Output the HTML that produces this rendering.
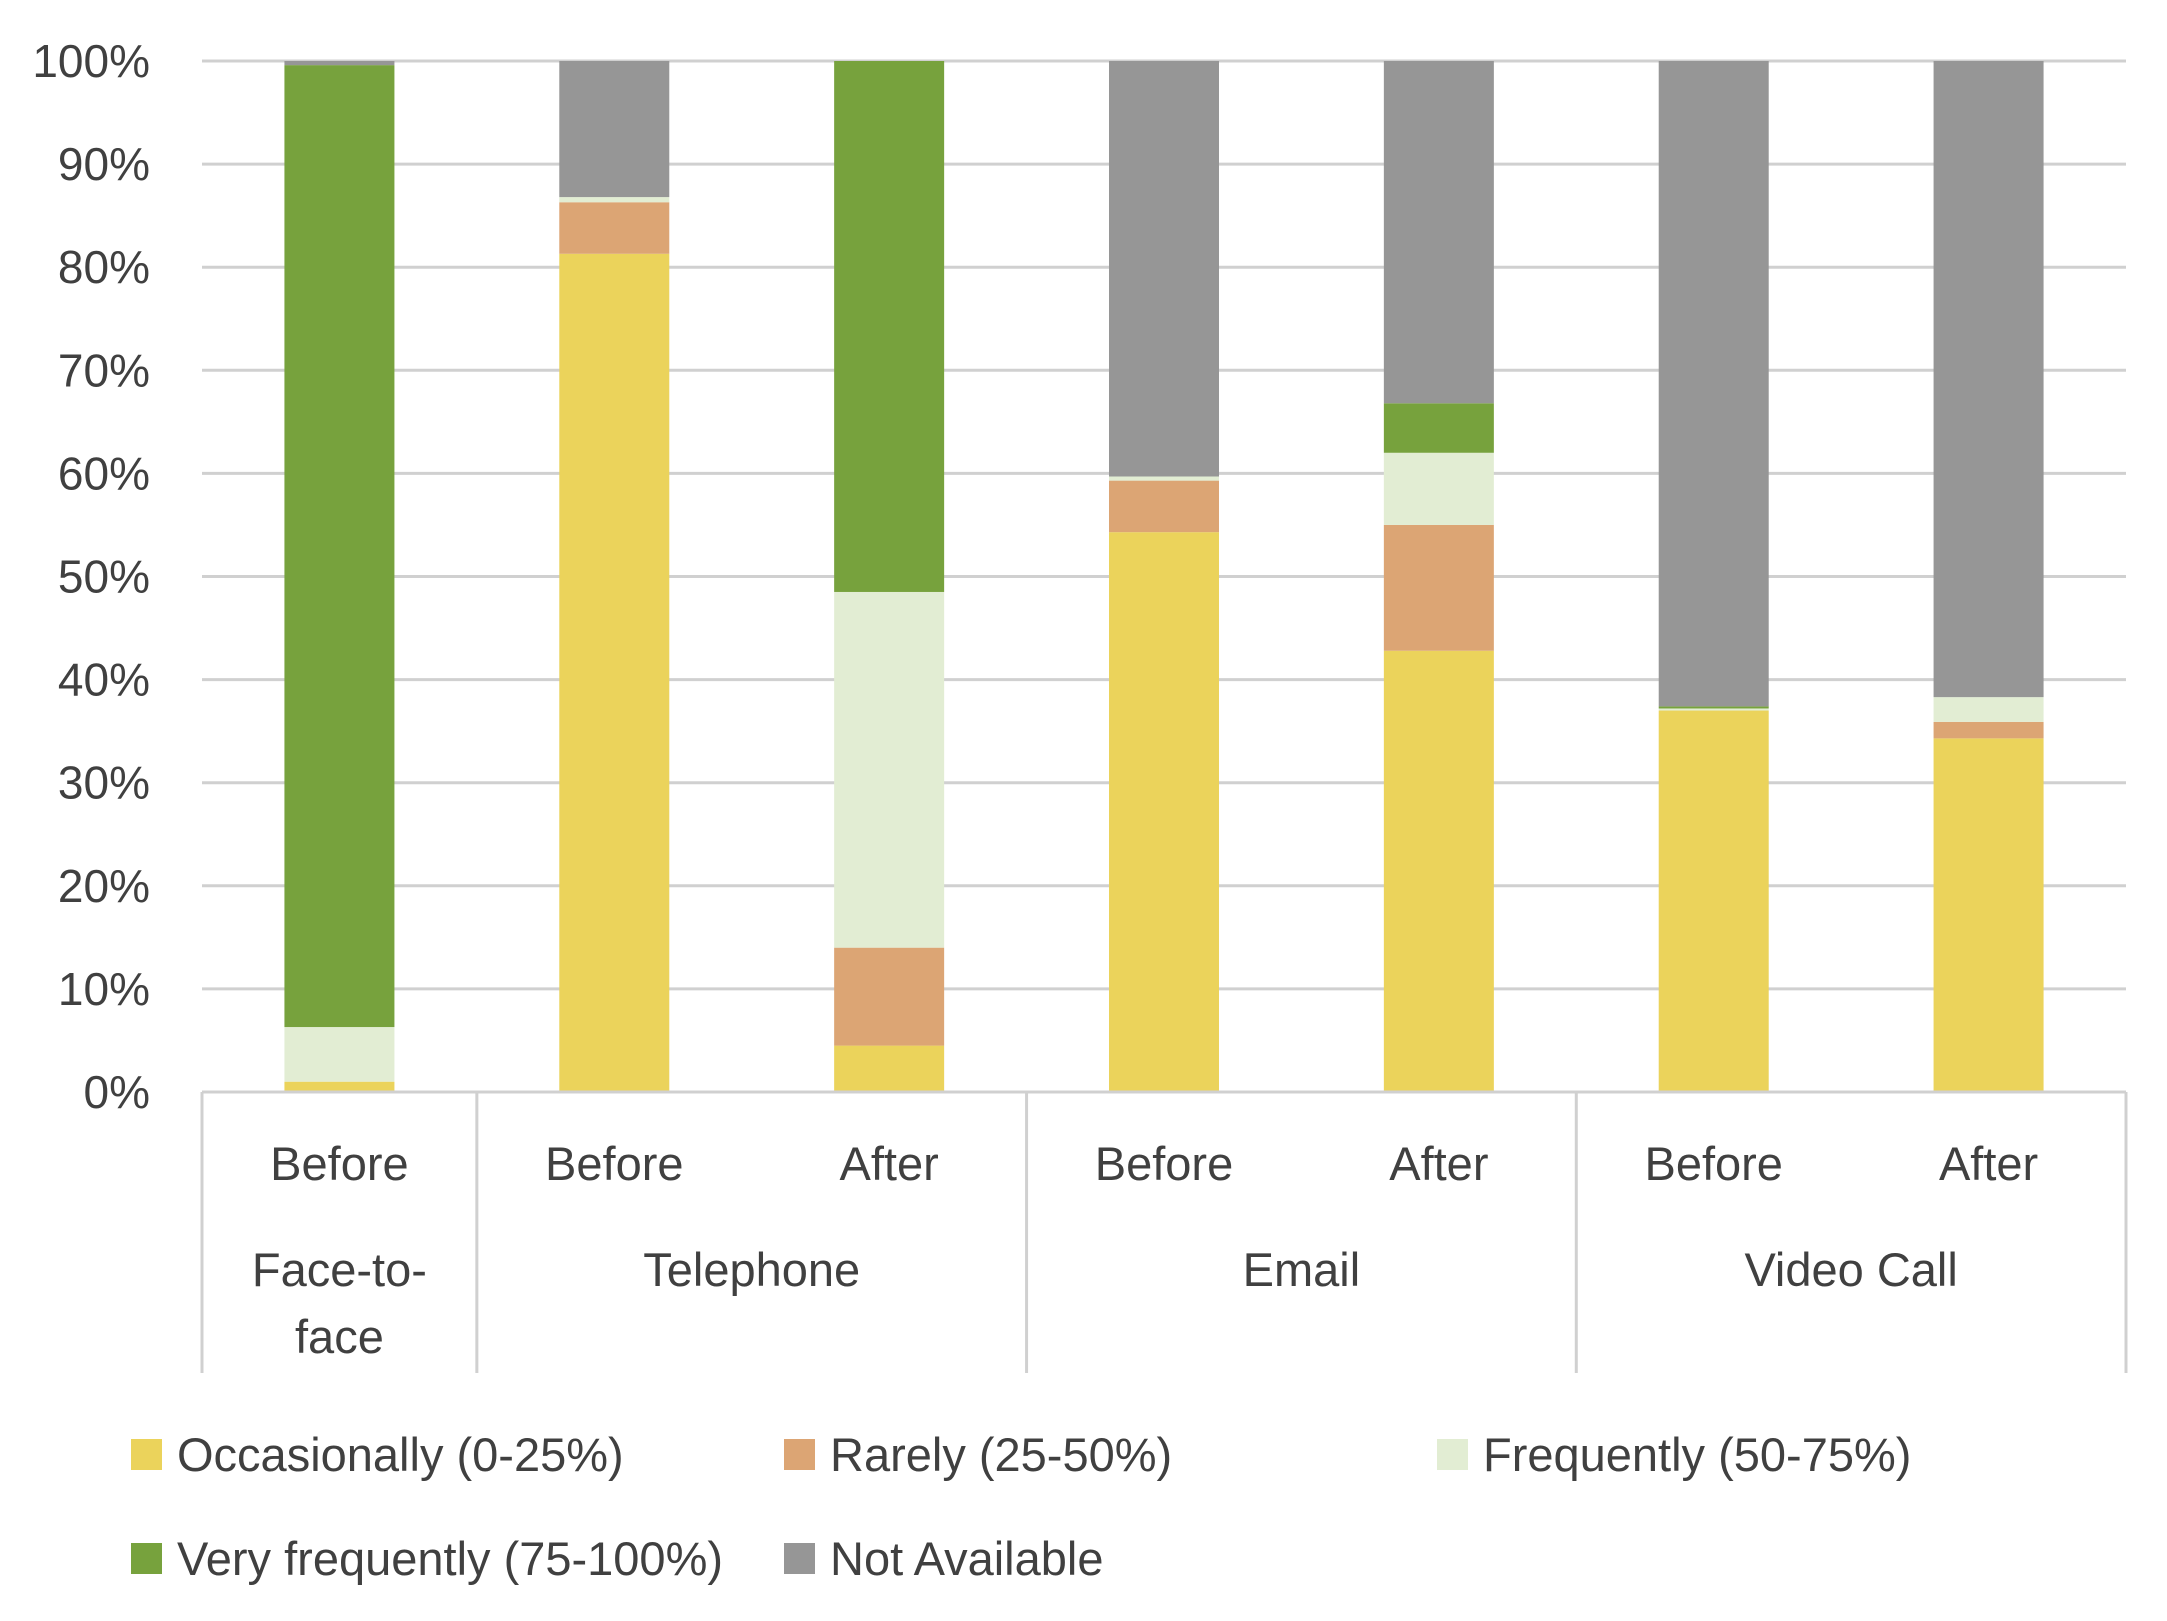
<!DOCTYPE html>
<html><head><meta charset="utf-8"><style>
html,body{margin:0;padding:0;background:#fff;}
svg{display:block;font-family:"Liberation Sans",sans-serif;}
text{fill:#404040;}
</style></head><body>
<svg id="chart" width="2167" height="1621" viewBox="0 0 2167 1621" xmlns="http://www.w3.org/2000/svg"></svg>
<script>
const categories = ["Before","Before","After","Before","After","Before","After"];
const groups = ["Face-to-face","Telephone","Email","Video Call"];
const groupSizes = [1,2,2,2];
const seriesNames = ["Occasionally (0-25%)","Rarely (25-50%)","Frequently (50-75%)","Very frequently (75-100%)","Not Available"];
const occasionally = [1.0, 81.3, 4.5, 54.3, 42.8, 37.0, 34.3];
const rarely = [0.0, 5.0, 9.5, 5.0, 12.2, 0.0, 1.6];
const frequently = [5.3, 0.5, 34.5, 0.4, 7.0, 0.2, 2.4];
const veryFrequently = [93.3, 0.0, 51.5, 0.0, 4.8, 0.2, 0.0];
const notAvailable = [0.4, 13.2, 0.0, 40.3, 33.2, 62.6, 61.7];
const yTicks = [0,10,20,30,40,50,60,70,80,90,100];
const tickLabels = ["0%","10%","20%","30%","40%","50%","60%","70%","80%","90%","100%"];

const colors = ["#EBD35B","#DCA574","#E2EDD3","#77A23D","#969696"];
const series = [occasionally, rarely, frequently, veryFrequently, notAvailable];
const svg = document.getElementById('chart');
const NS = "http://www.w3.org/2000/svg";
const left = 202, right = 2126, top0 = 61, bottom0 = 1092;
const slot = (right-left)/categories.length, barW = 110;
const y = v => bottom0 - (v/100)*(bottom0-top0);
const xc = i => left + slot*(i+0.5);
function mk(tag, attrs, txt){const e=document.createElementNS(NS,tag);for(const k in attrs)e.setAttribute(k,attrs[k]);if(txt!==undefined)e.textContent=txt;svg.appendChild(e);return e;}

yTicks.forEach((t,i)=>{
  const g = mk('line',{x1:left,x2:right,y1:y(t),y2:y(t),stroke:'#d0d0d0','stroke-width':3});
  
  
  const l = mk('text',{x:150,y:y(t)+16,'text-anchor':'end','font-size':46},tickLabels[i]);
  
  
});

categories.forEach((c,i)=>{
  let base=0;
  series.forEach((s,k)=>{
    const v=s[i]; if(v<=0) return;
    const r = mk('rect',{x:xc(i)-barW/2,y:y(base+v),width:barW,height:y(base)-y(base+v),fill:colors[k]});
    
    
    base+=v;
  });
  const t = mk('text',{x:xc(i),y:1180,'text-anchor':'middle','font-size':47},c);
  
  
});

const ax = mk('line',{x1:left,x2:right,y1:bottom0,y2:bottom0,stroke:'#d0d0d0','stroke-width':3});


let idx=0;
const sepXs=[left];
groupSizes.forEach((n,g)=>{
  const x0 = left+slot*idx, x1 = left+slot*(idx+n);
  sepXs.push(x1);
  const cx=(x0+x1)/2;
  if(groups[g]==="Face-to-face"){
    const a=mk('text',{x:cx,y:1286,'text-anchor':'middle','font-size':47},"Face-to-");
    
    
    const b=mk('text',{x:cx,y:1353,'text-anchor':'middle','font-size':47},"face");
    
    
  } else {
    const a=mk('text',{x:cx,y:1286,'text-anchor':'middle','font-size':47},groups[g]);
    
    
  }
  idx+=n;
});
sepXs.forEach(x=>{
  const s=mk('line',{x1:x,x2:x,y1:bottom0,y2:1373,stroke:'#d0d0d0','stroke-width':3});
  
  
});

const legPos=[[131,1455],[784,1455],[1437,1455],[131,1559],[784,1559]];
seriesNames.forEach((n,k)=>{
  const [lx,ly]=legPos[k];
  const sq=mk('rect',{x:lx,y:ly-16,width:31,height:31,fill:colors[k]});
  
  
  const t=mk('text',{x:lx+46,y:ly+16,'font-size':47},n);
  
  
});
</script>
</body></html>
